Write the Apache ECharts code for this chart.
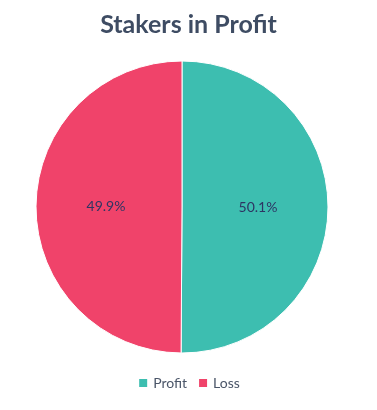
<!DOCTYPE html>
<html><head><meta charset="utf-8">
<script src="https://cdn.jsdelivr.net/npm/echarts@6/dist/echarts.min.js"></script>
<style>html,body{margin:0;padding:0;background:#fff}#c{width:377px;height:410px}</style>
</head><body><div id="c"></div>
<script>
const categories = ['Profit', 'Loss'];
const values = [50.1, 49.9];
const colors = ['#3dbeb0', '#f0436a'];
const chart = echarts.init(document.getElementById('c'));
chart.setOption({
  animation: false,
  title: { text: 'Stakers in Profit', left: 'center', top: 7,
    textStyle: { fontFamily: 'Lato', fontWeight: 'bold', fontSize: 25, color: '#3e4c63' } },
  legend: { bottom: 15, left: 'center', itemWidth: 10, itemHeight: 10, itemGap: 10, icon: 'rect',
    textStyle: { fontFamily: 'Lato', fontSize: 14, color: '#4a5568' }, data: categories },
  color: colors,
  series: [{
    type: 'pie', radius: 146, center: [182, 207], startAngle: 90, clockwise: true,
    itemStyle: { borderColor: '#fff', borderWidth: 1 },
    label: { position: 'inner', fontFamily: 'Lato', fontSize: 14, color: '#2e3563',
      formatter: p => p.value.toFixed(1) + '%' },
    labelLine: { show: false },
    data: categories.map((c, i) => ({ name: c, value: values[i] }))
  }]
});
</script></body></html>
